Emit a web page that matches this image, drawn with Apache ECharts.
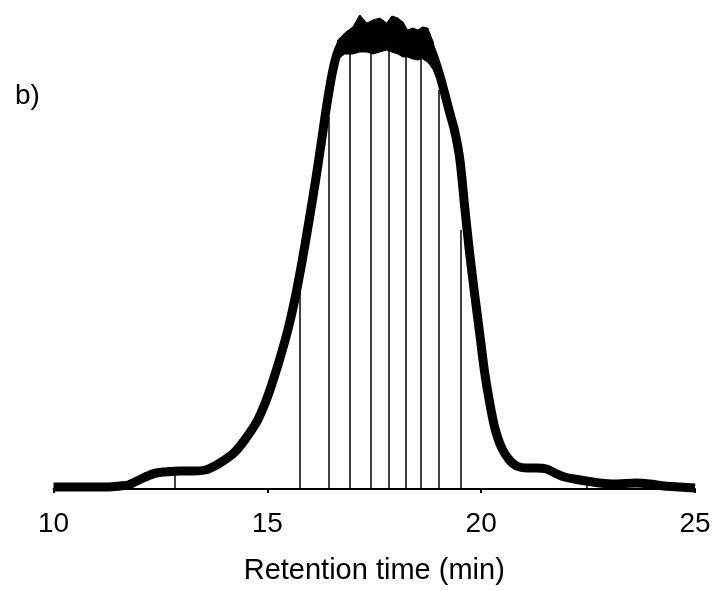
<!DOCTYPE html>
<html>
<head>
<meta charset="utf-8">
<style>
  html, body { margin: 0; padding: 0; background: #fff; }
  #chart { width: 718px; height: 591px; }
</style>
<script src="https://cdn.jsdelivr.net/npm/echarts@6/dist/echarts.min.js"></script>
</head>
<body>
<div id="chart"></div>
<script>
// Chromatogram: retention time (min) vs detector signal (a.u.)
const times = [
  10.00, 10.60, 11.30, 11.55, 11.75, 11.90, 12.05, 12.20, 12.40, 12.60,
  12.95, 13.30, 13.55, 13.77, 14.00, 14.24, 14.47, 14.75, 14.94, 15.10,
  15.29, 15.48, 15.64, 15.81, 15.97, 16.13, 16.27, 16.39, 16.51, 16.62,
  16.72, 16.81, 17.00, 17.16, 17.33, 17.47, 17.63, 17.79, 17.91, 18.05,
  18.17, 18.28, 18.40, 18.52, 18.63, 18.75, 18.87, 19.03, 19.15, 19.26,
  19.38, 19.50, 19.62, 19.73, 19.85, 19.97, 20.08, 20.20, 20.32, 20.48,
  20.66, 20.83, 21.06, 21.29, 21.53, 21.72, 21.95, 22.18, 22.46, 22.77,
  23.12, 23.63, 23.94, 24.29, 24.64, 25.00
];
const signal = [
  2, 2, 2, 3, 4, 7, 10, 13, 16, 17,
  18, 18, 19, 23, 29, 37, 49, 67, 85, 104,
  130, 159, 189, 227, 267, 309, 349, 384, 414, 434,
  444, 446, 449, 456, 452, 453, 455, 453, 456, 454,
  450, 446, 446, 445, 447, 445, 435, 414, 395, 377,
  358, 330, 280, 236, 194, 154, 117, 86, 61, 41,
  29, 23, 21, 21, 20, 16, 12, 10, 8, 6,
  5, 6, 5, 3, 2, 1
];

// Noise envelope across the top of the peak
const bandTimes = [16.55, 16.65, 16.81, 17.00, 17.16, 17.33, 17.47, 17.63, 17.79, 17.91, 18.05, 18.17, 18.28, 18.40, 18.52, 18.63, 18.75, 18.87, 18.97];
const bandHigh  = [432, 449, 456, 462, 474, 466, 469, 471, 466, 473, 471, 467, 459, 461, 459, 462, 461, 448, 430];
const bandLow   = [418, 430, 435, 435, 437, 437, 435, 437, 439, 437, 435, 432, 432, 430, 429, 430, 427, 420, 410];

// Fraction cut times and the signal where each cut meets the trace
const cutTimes   = [12.84, 15.76, 16.44, 16.93, 17.42, 17.84, 18.24, 18.59, 19.01, 19.52, 22.46];
const cutHeights = [17, 200, 372, 436, 441, 446, 434, 429, 399, 259, 8];

const xTicks = [10, 15, 20, 25];

const chart = echarts.init(document.getElementById('chart'));

const fontFamily = '"Liberation Sans", Arial, Helvetica, sans-serif';

chart.setOption({
  animation: false,
  backgroundColor: '#ffffff',
  title: {
    text: 'b)',
    left: 10,
    top: 77,
    textStyle: { fontFamily, fontSize: 28, fontWeight: 'normal', color: '#000' }
  },
  grid: { left: 53.5, right: 23, top: 9, bottom: 102, containLabel: false },
  xAxis: {
    type: 'value',
    min: xTicks[0],
    max: xTicks[xTicks.length - 1],
    interval: 5,
    name: 'Retention time (min)',
    nameLocation: 'middle',
    nameGap: 67,
    nameTextStyle: { fontFamily, fontSize: 29, color: '#000' },
    axisLine: { show: true, lineStyle: { color: '#000', width: 2 } },
    axisTick: { show: true, length: 4, lineStyle: { color: '#000', width: 2 } },
    axisLabel: { fontFamily, fontSize: 28, color: '#000', margin: 21 },
    splitLine: { show: false }
  },
  yAxis: {
    type: 'value',
    min: 0,
    max: 480,
    show: false,
    splitLine: { show: false }
  },
  series: [
    {
      name: 'cuts',
      type: 'lines',
      coordinateSystem: 'cartesian2d',
      z: 2,
      lineStyle: { color: '#000', width: 1.5, opacity: 1 },
      data: cutTimes.map((t, i) => ({ coords: [[t, 0], [t, cutHeights[i]]] }))
    },
    {
      name: 'noise',
      type: 'custom',
      z: 3,
      data: bandTimes.map((t, i) => [t, bandLow[i], bandHigh[i]]),
      encode: { x: 0, y: [1, 2] },
      renderItem: function (params, api) {
        const i = params.dataIndex;
        if (i >= bandTimes.length - 1) return null;
        const a1 = api.coord([bandTimes[i], bandHigh[i]]);
        const b1 = api.coord([bandTimes[i + 1], bandHigh[i + 1]]);
        const b0 = api.coord([bandTimes[i + 1], bandLow[i + 1]]);
        const a0 = api.coord([bandTimes[i], bandLow[i]]);
        return {
          type: 'polygon',
          shape: { points: [a1, b1, b0, a0] },
          style: { fill: '#000', stroke: '#000', lineWidth: 1 }
        };
      }
    },
    {
      name: 'signal',
      type: 'line',
      z: 4,
      data: times.map((t, i) => [t, signal[i]]),
      showSymbol: false,
      smooth: 0.3,
      lineStyle: { color: '#000', width: 9, cap: 'butt', join: 'round' }
    }
  ]
});
</script>
</body>
</html>
